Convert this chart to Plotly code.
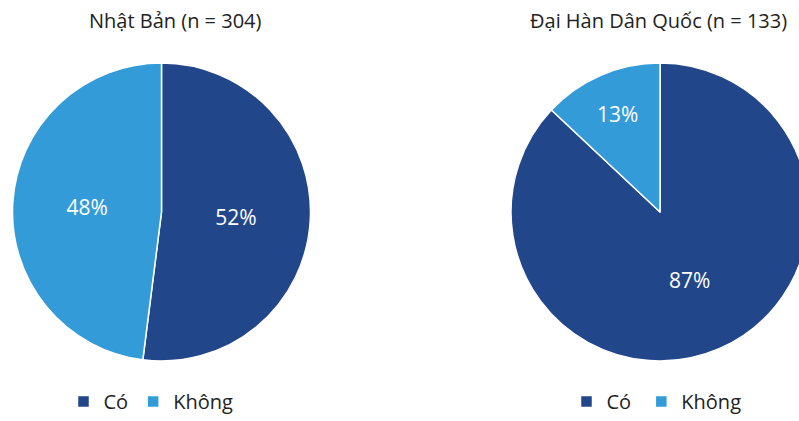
import plotly.graph_objects as go

W, H = 810, 421
labels_jp = ["Có", "Không"]
labels_kr = ["Có ", "Không "]
jp_values = [52, 48]
kr_values = [87, 13]
titles = ["Nhật Bản (n = 304)", "Đại Hàn Dân Quốc (n = 133)"]
colors = ["#22468A", "#339BD7"]
FONT = "Open Sans"

fig = go.Figure()
common = dict(sort=False, direction="clockwise", rotation=0,
              textinfo="percent", textposition="inside", insidetextorientation="horizontal",
              texttemplate="%{value}%",
              textfont=dict(color="white", size=21, family=FONT),
              marker=dict(colors=colors, line=dict(color="white", width=1.5)),
              hoverinfo="label+percent")
fig.add_trace(go.Pie(labels=labels_jp, values=jp_values,
                     domain=dict(x=[12/W, 311/W], y=[60/H, 358/H]),
                     legend="legend", **common))
fig.add_trace(go.Pie(labels=labels_kr, values=kr_values,
                     domain=dict(x=[511/W, 809/W], y=[60/H, 358/H]),
                     legend="legend2", **common))

ann = []
for t, cx in zip(titles, [175, 658]):
    ann.append(dict(text=t, x=cx/W, y=1-20/H, xref="paper", yref="paper", showarrow=False,
                    xanchor="center", yanchor="middle",
                    font=dict(size=20, family=FONT, color="#222")))

leg = dict(orientation="h", yanchor="bottom", xanchor="center", y=0,
           font=dict(size=20, family=FONT, color="#222"), bgcolor="rgba(0,0,0,0)",
           itemwidth=30, tracegroupgap=0)
fig.update_layout(width=W, height=H, margin=dict(l=0, r=0, t=0, b=0, autoexpand=False),
                  paper_bgcolor="white", plot_bgcolor="white",
                  annotations=ann,
                  legend=dict(leg, x=151/W),
                  legend2=dict(leg, x=659/W))
js = ("document.documentElement.style.overflow='hidden';"
      "document.body.style.overflow='hidden';document.body.style.margin='0';"
      "var g=document.getElementById('{plot_id}');g.style.width='799px';g.style.overflow='hidden';"
      "if(g.parentElement){g.parentElement.style.width='799px';g.parentElement.style.overflow='hidden';}")
fig.write_html("out.html", post_script=js)
